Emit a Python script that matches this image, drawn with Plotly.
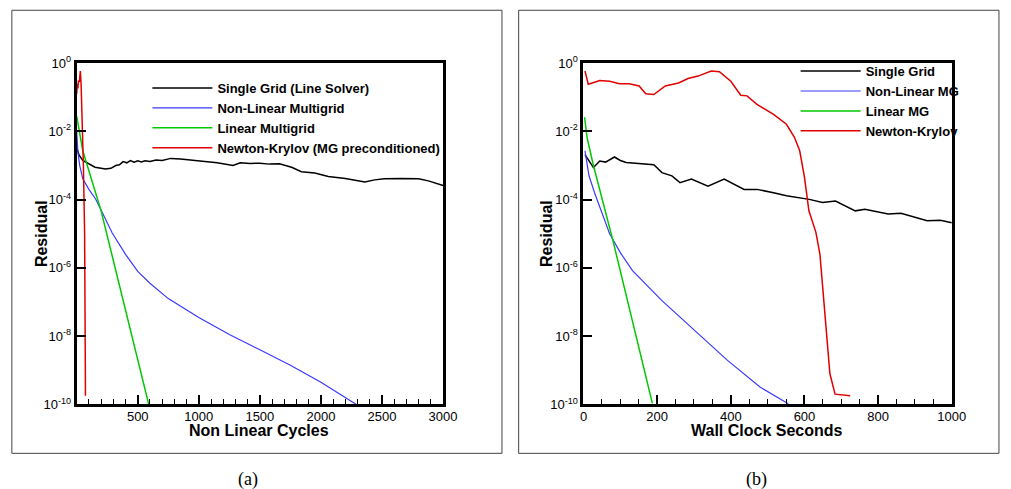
import plotly.graph_objects as go

# ---------------- data ----------------
# Panel (a): residual vs non linear cycles
a_single_x = [0, 20, 50, 100, 150, 200, 235, 280, 320, 350, 380, 410, 440, 470, 500, 530, 560, 600, 650, 700,
              770, 850, 950, 1040, 1150, 1280, 1340, 1420, 1500, 1580, 1660, 1760, 1840, 1950, 2060, 2200, 2360,
              2440, 2520, 2650, 2800, 2880, 2950, 3000]
a_single_y = [3.3e-3, 2.0e-3, 1.41e-3, 1.12e-3, 8.9e-4, 8.3e-4, 7.9e-4, 8.3e-4, 1.0e-3, 1.05e-3, 1.3e-3, 1.2e-3,
              1.4e-3, 1.25e-3, 1.38e-3, 1.28e-3, 1.38e-3, 1.32e-3, 1.45e-3, 1.41e-3, 1.62e-3, 1.55e-3, 1.41e-3,
              1.35e-3, 1.2e-3, 1.0e-3, 1.2e-3, 1.15e-3, 1.17e-3, 1.10e-3, 1.12e-3, 8.9e-4, 6.6e-4, 6.0e-4, 4.8e-4,
              4.2e-4, 3.3e-4, 3.8e-4, 4.1e-4, 4.2e-4, 4.1e-4, 3.55e-4, 3.0e-4, 2.6e-4]

a_nlmg_x = [0, 10, 25, 50, 100, 155, 200, 290, 400, 500, 600, 750, 1000, 1250, 1500, 1750, 2000, 2290]
a_nlmg_y = [1.0e-2, 2.5e-3, 1.0e-3, 4.1e-4, 2.0e-4, 1.05e-4, 5.0e-5, 1.07e-5, 2.5e-6, 7.9e-7, 3.55e-7, 1.26e-7,
            3.55e-8, 1.12e-8, 4.0e-9, 1.41e-9, 4.5e-10, 1.0e-10]

a_lmg_x = [0, 50, 200, 425, 590]
a_lmg_y = [2.8e-2, 2.7e-3, 4.7e-5, 2.3e-8, 1.0e-10]

a_nk_x = [0, 5, 10, 15, 22, 30, 36, 44, 55, 65, 70, 72]
a_nk_y = [0.126, 0.25, 0.18, 0.316, 0.28, 0.59, 0.25, 0.028, 1.0e-3, 1.0e-5, 1.0e-7, 1.8e-10]

# Panel (b): residual vs wall clock seconds
b_single_x = [4, 27, 44, 60, 84, 100, 116, 151, 191, 213, 240, 262, 293, 338, 382, 436, 471, 516, 551, 613, 649,
              684, 738, 764, 827, 862, 933, 969, 1000]
b_single_y = [2.1e-3, 8.7e-4, 1.35e-3, 1.26e-3, 1.78e-3, 1.41e-3, 1.23e-3, 1.15e-3, 1.05e-3, 6.2e-4, 5.0e-4,
              3.16e-4, 4.0e-4, 2.5e-4, 4.0e-4, 2.0e-4, 2.0e-4, 1.6e-4, 1.3e-4, 1.02e-4, 8.3e-5, 9.1e-5, 4.7e-5,
              5.2e-5, 3.8e-5, 4.0e-5, 2.4e-5, 2.5e-5, 2.1e-5]

b_nlmg_x = [4, 15, 30, 50, 71, 100, 133, 213, 302, 391, 480, 556]
b_nlmg_y = [2.7e-3, 5.0e-4, 1.6e-4, 4.0e-5, 1.0e-5, 2.8e-6, 8.3e-7, 1.1e-7, 1.45e-8, 1.95e-9, 3.2e-10, 1.05e-10]

b_lmg_x = [3, 10, 27, 80, 187]
b_lmg_y = [2.6e-2, 6.3e-3, 1.0e-3, 6.3e-6, 1.07e-10]

b_nk_x = [4, 13, 44, 71, 98, 124, 151, 169, 191, 222, 258, 284, 311, 347, 369, 400, 427, 444, 471, 516, 551, 573,
          587, 600, 612, 631, 642, 649, 659, 669, 683, 724]
b_nk_y = [0.59, 0.24, 0.31, 0.295, 0.25, 0.25, 0.214, 0.126, 0.12, 0.214, 0.263, 0.355, 0.417, 0.59, 0.56, 0.295,
          0.115, 0.11, 0.062, 0.0316, 0.0162, 6.6e-3, 2.7e-3, 4.5e-4, 4.7e-5, 1.1e-5, 2.5e-6, 3.4e-7, 1.17e-8,
          7.9e-10, 2.0e-10, 1.8e-10]

a_names = ["Single Grid (Line Solver)", "Non-Linear Multigrid", "Linear Multigrid",
           "Newton-Krylov (MG preconditioned)"]
b_names = ["Single Grid", "Non-Linear MG", "Linear MG", "Newton-Krylov"]

y_tickvals = [1e-10, 1e-8, 1e-6, 1e-4, 1e-2, 1]
y_ticktext = ["10<sup>-10</sup>", "10<sup>-8</sup>", "10<sup>-6</sup>", "10<sup>-4</sup>",
              "10<sup>-2</sup>", "10<sup>0</sup>"]
a_xticks = [500, 1000, 1500, 2000, 2500, 3000]
b_xticks = [0, 200, 400, 600, 800, 1000]

colors = ["#000000", "#3a3aff", "#00c800", "#e00000"]
widths = [1.5, 1.2, 1.5, 1.5]

# ---------------- figure ----------------
W, H = 1011, 500
SY, OFF = 0.968, 8  # vertical mapping observed between the figure and the photographed window

fig = go.Figure()

a_series = [(a_single_x, a_single_y), (a_nlmg_x, a_nlmg_y), (a_lmg_x, a_lmg_y), (a_nk_x, a_nk_y)]
b_series = [(b_single_x, b_single_y), (b_nlmg_x, b_nlmg_y), (b_lmg_x, b_lmg_y), (b_nk_x, b_nk_y)]

for i, (xs, ys) in enumerate(a_series):
    fig.add_trace(go.Scatter(x=xs, y=ys, mode="lines", name=a_names[i],
                             line=dict(color=colors[i], width=widths[i]),
                             xaxis="x", yaxis="y", legend="legend"))
for i, (xs, ys) in enumerate(b_series):
    fig.add_trace(go.Scatter(x=xs, y=ys, mode="lines", name=b_names[i],
                             line=dict(color=colors[i], width=widths[i]),
                             xaxis="x2", yaxis="y2", legend="legend2"))

def px_x(p):
    return p / W

def px_y(p):
    f = p / SY - OFF
    return (H - f) / H

sans = "Liberation Sans, Arial, sans-serif"
tick_font = dict(family=sans, size=13, color="black")
title_font = dict(family=sans, size=16, color="black", weight="bold")
legend_font = dict(family=sans, size=13, color="black", weight="bold")
caption_font = dict(family="Liberation Serif, DejaVu Serif, serif", size=18, color="black")

common_axis = dict(showline=True, linewidth=3, linecolor="black", mirror=True, showgrid=False,
                   zeroline=False, ticks="inside", tickwidth=2, tickcolor="black", tickfont=tick_font)

yaxis_common = dict(common_axis, type="log", range=[-10, 0], tickvals=y_tickvals, ticktext=y_ticktext,
                    ticklen=9)

fig.update_layout(
    width=W, height=H,
    margin=dict(l=0, r=0, t=0, b=0),
    paper_bgcolor="white", plot_bgcolor="white",
    font=dict(family=sans, color="black"),
    xaxis=dict(common_axis, domain=[px_x(74), px_x(447)], range=[0, 3000], tickvals=a_xticks,
               ticklen=9, ticklabelstandoff=-2,
               minor=dict(ticks="inside", tick0=0, dtick=100, ticklen=5, tickwidth=1,
                          tickcolor="black", showgrid=False), anchor="y"),
    yaxis=dict(yaxis_common, domain=[px_y(404), px_y(62)], anchor="x"),
    xaxis2=dict(common_axis, domain=[px_x(590), px_x(965)], range=[0, 1000], tickvals=b_xticks,
                ticklen=9, ticklabelstandoff=-2,
                minor=dict(ticks="inside", tick0=0, dtick=50, ticklen=5, tickwidth=1,
                           tickcolor="black", showgrid=False), anchor="y2"),
    yaxis2=dict(yaxis_common, domain=[px_y(404), px_y(62)], anchor="x2"),
    legend=dict(x=px_x(146), y=px_y(72), xanchor="left", yanchor="top", bgcolor="rgba(0,0,0,0)",
                font=legend_font, itemwidth=60, tracegroupgap=0),
    legend2=dict(x=px_x(806), y=px_y(55), xanchor="left", yanchor="top", bgcolor="rgba(0,0,0,0)",
                 font=legend_font, itemwidth=60, tracegroupgap=0),
    shapes=[
        dict(type="rect", xref="paper", yref="paper", x0=px_x(8), x1=px_x(507), y0=px_y(453), y1=px_y(9),
             line=dict(color="#444444", width=1), fillcolor="rgba(0,0,0,0)", layer="below"),
        dict(type="rect", xref="paper", yref="paper", x0=px_x(524), x1=px_x(1013), y0=px_y(453), y1=px_y(9),
             line=dict(color="#444444", width=1), fillcolor="rgba(0,0,0,0)", layer="below"),
    ],
    annotations=[
        dict(text="Residual", xref="paper", yref="paper", x=px_x(38), y=px_y(233), showarrow=False,
             textangle=-90, xanchor="center", yanchor="middle", font=title_font),
        dict(text="Residual", xref="paper", yref="paper", x=px_x(553), y=px_y(233), showarrow=False,
             textangle=-90, xanchor="center", yanchor="middle", font=title_font),
        dict(text="Non Linear Cycles", xref="paper", yref="paper", x=px_x(260), y=px_y(430), showarrow=False,
             xanchor="center", yanchor="middle", font=title_font),
        dict(text="Wall Clock Seconds", xref="paper", yref="paper", x=px_x(777), y=px_y(430), showarrow=False,
             xanchor="center", yanchor="middle", font=title_font),
        dict(text="(a)", xref="paper", yref="paper", x=px_x(248), y=px_y(479), showarrow=False,
             xanchor="center", yanchor="middle", font=caption_font),
        dict(text="(b)", xref="paper", yref="paper", x=px_x(766), y=px_y(479), showarrow=False,
             xanchor="center", yanchor="middle", font=caption_font),
    ],
)

fig.write_html("out.html")
